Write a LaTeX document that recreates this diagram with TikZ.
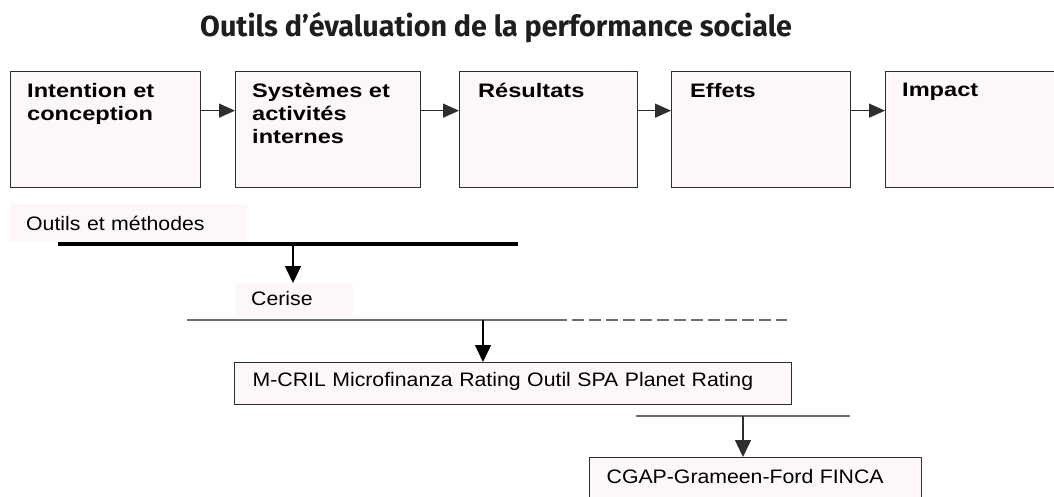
\documentclass[tikz,border=0pt]{standalone}
\usepackage{fontspec}
\setmainfont{Liberation Sans}[FakeStretch=1.09]
\newfontfamily\stagefont{Liberation Sans}[FakeStretch=1.21]
\newfontfamily\titlefont{Fira Sans}[FakeStretch=0.99]
\usetikzlibrary{arrows.meta}
\definecolor{boxfill}{HTML}{FDF8F7}
\definecolor{boxline}{HTML}{2E2E2E}
\definecolor{rulegray}{HTML}{6E6E6E}
\definecolor{titlegray}{HTML}{1E1E1E}
\tikzset{
  stage/.style={draw=boxline,line width=1.3pt,fill=boxfill,minimum width=#1,
    minimum height=116pt,inner sep=0pt,anchor=north west},
  stagetext/.style={anchor=north west,inner sep=0pt,align=left,text=black,
    font=\stagefont\bfseries\fontsize{19.5}{23}\selectfont},
  tag/.style={fill=boxfill,align=left,anchor=north west,inner ysep=0pt,
    inner xsep=16pt,font=\fontsize{19.5}{23}\selectfont},
  toolbox/.style={draw=boxline,line width=1.3pt,fill=boxfill,align=left,
    anchor=north west,inner ysep=0pt,font=\fontsize{19.5}{23}\selectfont},
  arr/.style={-{Triangle[length=16pt,width=14pt]},line width=1.3pt,draw=boxline},
  drop/.style={-{Triangle[length=17pt,width=16pt]},line width=1.4pt}
}
\begin{document}
\begin{tikzpicture}[x=1pt,y=-1pt]
  \useasboundingbox (0,0) rectangle (1054,497);
  \fill[white] (0,0) rectangle (1054,497);
  \clip (0,0) rectangle (1054,497);

  \node[anchor=base west,inner sep=0pt,text=titlegray,
    font=\titlefont\bfseries\fontsize{29}{31}\selectfont] (title) at (200,37)
    {Outils d’évaluation de la performance sociale};

  % the five stages
  \node[stage=190pt] (intent) at (10,71) {};
  \node[stage=185pt] (systems) at (235,71) {};
  \node[stage=178pt] (results) at (459,71) {};
  \node[stage=179pt] (effects) at (671,71) {};
  \node[stage=185pt] (impact) at (885,71) {};
  \node[stagetext] (intent-t) at ([xshift=17pt,yshift=-12pt]intent.north west) {Intention et\\conception};
  \node[stagetext] (systems-t) at ([xshift=17pt,yshift=-12pt]systems.north west) {Systèmes et\\activités\\internes};
  \node[stagetext] (results-t) at ([xshift=19pt,yshift=-12pt]results.north west) {Résultats};
  \node[stagetext] (effects-t) at ([xshift=19pt,yshift=-12pt]effects.north west) {Effets};
  \node[stagetext] (impact-t) at ([xshift=17pt,yshift=-12pt]impact.north west) {Impact};

  % tools
  \node[tag,text width=205pt,text height=26pt,text depth=12pt] (tools) at (10,204) {Outils et méthodes};
  \node[tag,text width=86pt,text height=22pt,text depth=12pt] (cerise) at (235,283) {Cerise};
  \node[toolbox,inner xsep=18pt,text width=521pt,text height=24pt,text depth=18pt] (mcril) at (234,362)
    {M-CRIL Microfinanza Rating Outil SPA Planet Rating};
  \node[toolbox,inner xsep=17pt,text width=298pt,text height=26pt,text depth=50pt] (cgap) at (589,457)
    {CGAP-Grameen-Ford FINCA};

  \coordinate (tools-l) at (58,244);
  \coordinate (tools-r) at (518,244);
  \coordinate (tools-tap) at (293,244);
  \coordinate (cerise-l) at (187,320);
  \coordinate (cerise-m) at (555,320);
  \coordinate (cerise-r) at (787,320);
  \coordinate (cerise-tap) at (483,320);
  \coordinate (cgap-l) at (636,416);
  \coordinate (cgap-r) at (850,416);
  \coordinate (cgap-tap) at (743,416);

  \begin{scope}
    \draw[arr] ([yshift=19pt]intent.east) -- ([yshift=19pt]systems.west);
    \draw[arr] ([yshift=19pt]systems.east) -- ([yshift=19pt]results.west);
    \draw[arr] ([yshift=19pt]results.east) -- ([yshift=19pt]effects.west);
    \draw[arr] ([yshift=19pt]effects.east) -- ([yshift=19pt]impact.west);
    \draw[line width=4pt] (tools-l) -- (tools-r);
    \draw[rulegray,line width=2pt] (cerise-l) -- (cerise-m);
    \draw[rulegray,line width=2pt,dash pattern=on 12pt off 5pt] (cerise-m) -- (cerise-r);
    \draw[rulegray,line width=2pt] (cgap-l) -- (cgap-r);
    \draw[drop,draw=black] (tools-tap) -- (tools-tap |- cerise.north);
    \draw[drop,draw=black] (cerise-tap) -- (cerise-tap |- mcril.north);
    \draw[drop,draw=boxline] (cgap-tap) -- (cgap-tap |- cgap.north);
  \end{scope}
\end{tikzpicture}
\end{document}
